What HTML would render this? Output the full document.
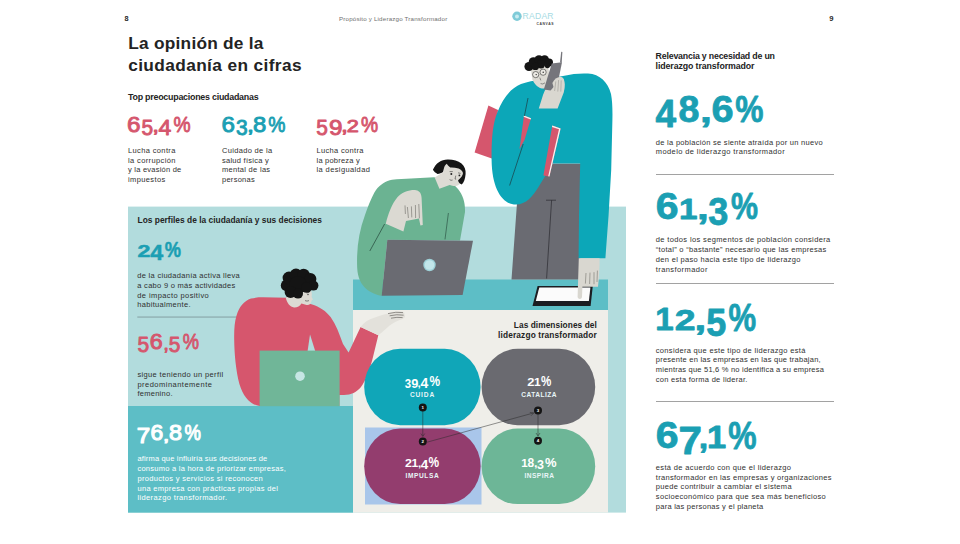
<!DOCTYPE html>
<html lang="es">
<head>
<meta charset="utf-8">
<title>La opinión de la ciudadanía en cifras</title>
<style>
html,body{margin:0;padding:0;background:#fff;}
body{width:960px;height:544px;position:relative;overflow:hidden;font-family:"Liberation Sans",sans-serif;color:#222;}
.t{position:absolute;white-space:nowrap;line-height:1;margin:0;}
.hr{position:absolute;left:656px;width:178px;height:1px;background:#a2a2a2;}
#art{position:absolute;left:0;top:0;}
</style>
</head>
<body>
<svg id="art" width="960" height="544" viewBox="0 0 960 544">
  <!-- panels -->
  <rect x="128" y="206.6" width="498" height="306" fill="#b2dcdd"/>
  <rect x="128" y="406" width="225" height="106.6" fill="#5dbec6"/>
  <rect x="353" y="279.5" width="255" height="31" fill="#5dbec6"/>
  <rect x="353" y="310" width="255" height="202.6" fill="#efeee9"/>

  <rect x="137.3" y="316.6" width="110" height="0.9" fill="#7e979b"/>
  <!-- ============ seated person (green) ============ -->
  <g id="green">
    <path d="M357.2 268 C356.4 250 358.6 232 365 215 C369 204 372 196 376 190 C380 184.6 386 181 392 179.8 C398 178.8 405 178.6 411 178.4 L434 177.2 C444 178 452 182 458 189 C463 195 465.4 203 465 212 L460 240.4 L387.3 239.8 L381.7 295.8 C372 294 358 288 357.2 268 Z" fill="#6bb392"/>
    <!-- seams -->
    <path d="M384.6 224 L369.8 251" stroke="#24463a" stroke-width="0.7" fill="none"/>
    <path d="M448.4 213 L445 239.4" stroke="#24463a" stroke-width="0.6" fill="none"/>
    <!-- collar / neck -->
    <path d="M434.7 177.4 L443.4 172 L451 184.6 L439.4 188.8 Z" fill="#dddbd4"/>
    <!-- face -->
    <path d="M443.8 165 C446 162 452 163 458 166 C463 169 464.8 174 462.6 180 C460.6 185 456.4 186.8 452.4 185.8 C447 184.4 444 180 443.2 175 Z" fill="#dddbd4"/>
    <!-- hair bob -->
    <path d="M432.9 169.8 C436 163 441 159.6 447.6 159.5 C453 159.4 458 160.6 461.5 163.6 C464.6 166.4 466 170 465.6 174 C465.2 179 463.8 182.6 461.8 184.6 C459.6 183.6 458.2 182 458.1 180.3 C460.8 178 463 175.4 463 173 C462.4 170.6 460.6 169 458.6 168.4 C455.6 167.6 453 167.4 450.3 167.5 C448.8 166.4 447.6 165 446.7 163.8 C445.2 165 444.3 166.6 443.9 168.4 L443 172 C441.4 173.2 439.6 173.8 437.5 173.9 C435.6 173 434 171.6 432.9 169.8 Z" fill="#151515"/>
    <!-- features -->
    <ellipse cx="451.3" cy="174" rx="1" ry="0.9" fill="#222"/><ellipse cx="459.4" cy="175.4" rx="0.9" ry="0.9" fill="#222"/>
    <path d="M449.6 171.6 L452.8 171.6 M458 172.8 L460.6 173.4 M455.8 175.6 L455 179 L456.2 179.2 M449.6 179.6 Q451 180.8 452.6 180" stroke="#222" stroke-width="0.5" fill="none"/>
    <!-- forearm / hand -->
    <path d="M397.6 197 C402 192.4 410 189.6 416 190.2 C420 190.8 421.4 194 421.6 198 L422.8 225 L420.4 225.6 L419 218.6 L406 221 L403.4 231.6 L385.8 223.8 C388 214 392 203.6 397.6 197 Z" fill="#dbd9d2"/>
    <path d="M405 205.4 L405.4 214 M407.4 207 L408.4 218 M411.4 206.4 L411.8 217.4 M415.4 205 L415.6 218 M418.8 204 L419.4 218.4" stroke="#6d6b66" stroke-width="0.6" fill="none"/>
    <!-- laptop -->
    <path d="M387.3 239.8 L473 240.7 L462.6 295 L381.7 295.8 Z" fill="#6a6b72"/>
    <circle cx="429.5" cy="265" r="6.2" fill="#9fd2d9"/>
    <circle cx="429.5" cy="265" r="4.8" fill="#c2e6ea"/>
  </g>

  <!-- ============ seated person (red) ============ -->
  <g id="redp">
    <!-- body + arm -->
    <path d="M234.2 340 C234 330 234.6 322 236.4 316 C239 307 244 301 251 298.6 C255 297.5 259 297.3 263 297.3 L287 297.8 L311.4 304.2 C320 307 326 311 330.6 317 C336 324.6 339.4 334 343 344 L348.6 352.6 L360.6 327 L378.3 335.3 L373 357 C370 369 366 380 361 387 C357 392 351 395 344 395 L339.4 395 L339.4 406 L259.6 406 C250 404.6 243.4 397 239.4 384 C235.8 370 234.4 354 234.2 340 Z" fill="#d6566d"/>
    <!-- gap between body and arm -->
    <path d="M310 334.6 L315.2 351 L307.6 351 Z" fill="#b2dcdd"/>
    <!-- neck + face -->
    <path d="M285.8 298 L296 290 L309 288.6 C311.6 290 312.4 294 311.6 297 L313 299.4 L311.6 300.6 C311.4 303.6 309.4 305.4 306.6 305 L301.4 303.4 C300 306 297 307.6 294 307.4 C290 307 287 303 285.8 298 Z" fill="#dcdad3"/>
    <path d="M306.6 293 L309.4 292.4 M305 300.6 Q307 301.6 309 300.6" stroke="#222" stroke-width="0.5" fill="none"/>
    <circle cx="308" cy="294.6" r="0.7" fill="#222"/>
    <!-- hair -->
    <g fill="#141414">
      <circle cx="286.6" cy="285.4" r="5.8"/><circle cx="289" cy="278.0" r="6.4"/><circle cx="296" cy="275.0" r="6.4"/><circle cx="303.6" cy="275.0" r="6.2"/>
      <circle cx="310.4" cy="279.0" r="6"/><circle cx="313.4" cy="285.6" r="5"/><circle cx="298" cy="285.0" r="9"/><circle cx="290.6" cy="292.0" r="6"/><circle cx="298" cy="293.6" r="5"/><circle cx="306.6" cy="287.4" r="5.4"/>
    </g>
    <!-- hand -->
    <path d="M360.6 327 C364 322 369 319 375 317.4 C382 314.8 392 312 400 311.4 C403.6 311.2 405.2 312.8 404.4 314.6 C405.8 316.2 404.8 318.6 402 319.2 C397 320.8 393 323 389.6 325.6 C386 329 382 332.6 378.3 335.3 Z" fill="#e3e1db"/>
    <path d="M388 313.6 Q396 311.4 403 312.6 M389.6 315.8 Q397 314 403.6 315.2 M391 318.2 Q397 316.8 402.6 317.6" stroke="#55534f" stroke-width="0.6" fill="none"/>
    <!-- laptop -->
    <rect x="259.6" y="350.6" width="80" height="55.6" fill="#70b698"/>
    <circle cx="300" cy="376.2" r="4.8" fill="#c6e6e4"/>
  </g>

  <!-- ============ standing person (teal coat) ============ -->
  <g id="stand">
    <!-- red folder behind -->
    <path d="M488.4 105.5 L498 110 L494 159.2 L474.6 152.4 Z" fill="#d5566d"/>
    <!-- pants -->
    <path d="M552.7 163.5 L581 163.5 L580 279.4 L511.5 279.4 L517 203 L538 186 Z" fill="#6a6b72"/>
    <path d="M546 200.2 H556 M551.6 200.2 L546.6 278.5" stroke="#2b2b30" stroke-width="0.7" fill="none"/>
    <!-- coat -->
    <path d="M491.6 160 C491.4 140 492.5 124 497.5 112 C503 98 511 88 521 84 C528 81.5 534 80.5 540 80 L563 76 C572 74 580 73.2 588 73.6 C600 74.4 607.8 82 611 94 C612.4 101 612.6 110 612.4 120 L611.2 170 L608.6 215 L605.4 258.2 L578.6 258.2 L579 215 L580.2 163.5 L552.7 163.5 L538.5 187 C533 196 526 204.6 516 204.6 C503 204.6 492 190 491.6 160 Z" fill="#0ca7b8"/>
    <!-- red lining stripes -->
    <path d="M524 115.5 L531 118.3 L524.5 140 L519.5 149 Z" fill="#d5566d"/>
    <path d="M524 115.5 L531 118.3 L530.6 119.6 L523.6 116.8 Z" fill="#f4f4f1"/>
    <path d="M552.3 125.6 L560.6 128.4 L549.4 176.5 L543.4 175.5 Z" fill="#d5566d"/>
    <path d="M552.3 125.6 L560.6 128.4 L549.4 176.5 L548.2 176.3 L559 129.3 L552 127 Z" fill="#f4f4f1"/>
    <!-- seam -->
    <path d="M523.2 144 L509.6 185.5 M528 98 L524.4 116" stroke="#1d3c44" stroke-width="0.7" fill="none"/>
    <!-- face -->
    <path d="M531 70 C533 66 540 64.5 548 65.5 L550 79 C549.6 84.6 547.4 88.6 543.6 88.6 C538.6 88.4 534.4 84.4 532.4 79.4 Z" fill="#dcdad3"/>
    <!-- hair -->
    <g fill="#141414">
      <circle cx="529" cy="66.5" r="4.6"/><circle cx="533.5" cy="62" r="4.8"/><circle cx="539" cy="59.8" r="4.6"/>
      <circle cx="544.6" cy="59.6" r="4.4"/><circle cx="549" cy="62.4" r="4"/><circle cx="541" cy="64.2" r="4.2"/><circle cx="535.4" cy="66.4" r="3.6"/><circle cx="547.4" cy="65.6" r="2.6"/>
    </g>
    <!-- glasses and features -->
    <g stroke="#222" stroke-width="0.55" fill="#eceae4">
      <circle cx="535.7" cy="74.6" r="3.1"/><circle cx="543.1" cy="72.2" r="3.1"/>
    </g>
    <circle cx="536.2" cy="74.6" r="0.7" fill="#222"/><circle cx="543.2" cy="72.2" r="0.7" fill="#222"/>
    <path d="M539.8 77.6 L540.8 80.4 M540.6 83.6 Q542.8 84.8 545 82.8" stroke="#222" stroke-width="0.45" fill="none"/>
    <!-- hand holding the phone -->
    <path d="M551 81 C555.6 74.8 562.2 75.4 564 80 C565.4 86 564.5 92 562 97 L557.6 108.6 L538.8 108.6 L543 95 C545 89 547.6 85.4 551 82 Z" fill="#d9d7d0"/>
    <!-- phone -->
    <path d="M560 62.4 L561.2 51.8 L562.4 52 L561.7 62.4 Z" fill="#76767c"/>
    <path d="M551.8 63.6 L562 62.2 L558 82 L550.6 90.6 L543.8 89.4 Z" fill="#75757b"/>
    <!-- fingers over phone -->
    <path d="M552.4 83 C554.8 77.4 559.8 75.6 562.8 77.8 C565.2 80.6 564.8 88 563 93 L556 96 Z" fill="#d9d7d0"/>
    <path d="M555.8 81.4 L554.6 91 M558.6 80 L557.8 91.6 M561.2 80.4 L560.8 91.6" stroke="#8f8d88" stroke-width="0.5" fill="none"/>
    <!-- right hand & tablet -->
    <path d="M537.6 286 L592.8 286 L590.6 306 L532.5 306 Z" fill="#1b1d22"/>
    <path d="M539.3 287.6 L590.4 287.6 L588.9 301 L535.8 301 Z" fill="#fbfbfb"/>
    <path d="M578.8 258.2 L599.6 258.2 C599.6 268 599 278 598 286.8 L582.4 286.8 L582 297 C581.6 299.6 578 299.6 577.6 297 Z" fill="#d9d7d0"/>
    <path d="M586 273 L585.4 283.6 M590 272.6 L589.6 284 M594 272.2 L594 284.2 M597.4 270.6 L597 282" stroke="#77756f" stroke-width="0.6" fill="none"/>
  </g>

  <!-- logo -->
  <circle cx="517" cy="16.2" r="4.7" fill="#7fcbd8"/>
  <circle cx="517" cy="16.6" r="2" fill="#c9ecf1"/>

  <!-- dimension blobs -->
  <rect x="365" y="427.5" width="116.5" height="77" fill="#a9c6ea"/>
  <rect x="364.2" y="348.8" width="116.4" height="76.4" rx="36" ry="38.2" fill="#10a6b8"/>
  <rect x="481.6" y="348.8" width="113.6" height="76.4" rx="36" ry="38.2" fill="#6a6a70"/>
  <rect x="364.2" y="428.6" width="116.4" height="75.4" rx="36" ry="37.7" fill="#933d6e"/>
  <rect x="481.6" y="428.6" width="113.6" height="75.4" rx="36" ry="37.7" fill="#6db697"/>
  <g stroke="#2a2a2a" stroke-width="0.5" fill="none">
    <path d="M422.8 411 V436 M420.8 433.5 L422.8 436.5 L424.8 433.5"/>
    <path d="M427 442.2 L533.4 413 M529.8 412.4 L533.8 412.9 L531 415.8"/>
    <path d="M538 414 V435.5 M536 433 L538 436 L540 433"/>
  </g>
  <g fill="#141414">
    <circle cx="422.8" cy="407.6" r="4"/>
    <circle cx="422.8" cy="441.6" r="4"/>
    <circle cx="538" cy="410.5" r="4"/>
    <circle cx="538" cy="440.8" r="4"/>
  </g>
  <g font-family="Liberation Sans, sans-serif" font-weight="bold" font-size="4.4" fill="#fff" text-anchor="middle">
    <text x="422.8" y="409.2">1</text>
    <text x="422.8" y="443.2">2</text>
    <text x="538" y="412.1">3</text>
    <text x="538" y="442.4">4</text>
  </g>
</svg>

<svg id="nums" width="960" height="544" viewBox="0 0 960 544" style="position:absolute;left:0;top:0">
<text id="pg8" font-family="Liberation Sans, sans-serif" font-weight="bold" fill="#2a2a2a"><tspan x="124.57" y="21.13" font-size="6.92" textLength="4.06" lengthAdjust="spacingAndGlyphs">8</tspan></text>
<text id="pg9" font-family="Liberation Sans, sans-serif" font-weight="bold" fill="#2a2a2a"><tspan x="829.24" y="21.23" font-size="7.06" textLength="4.25" lengthAdjust="spacingAndGlyphs">9</tspan></text>
<text id="n1" font-family="Liberation Sans, sans-serif" font-weight="normal" fill="#d5566d" stroke="#d5566d" stroke-width="0.9" stroke-linejoin="round"><tspan x="127.02" y="131.54" font-size="21.75" textLength="13.50" lengthAdjust="spacingAndGlyphs">6</tspan><tspan x="141.61" y="134.94" font-size="21.50" textLength="11.61" lengthAdjust="spacingAndGlyphs">5</tspan><tspan x="152.35" y="132.41" font-size="18.31" textLength="6.79" lengthAdjust="spacingAndGlyphs">,</tspan><tspan x="158.62" y="135.15" font-size="21.80" textLength="12.80" lengthAdjust="spacingAndGlyphs">4</tspan><tspan x="173.47" y="131.82" font-size="22.30" textLength="17.07" lengthAdjust="spacingAndGlyphs">%</tspan></text>
<text id="n2" font-family="Liberation Sans, sans-serif" font-weight="normal" fill="#1b9fb3" stroke="#1b9fb3" stroke-width="0.9" stroke-linejoin="round"><tspan x="221.47" y="131.54" font-size="21.75" textLength="13.44" lengthAdjust="spacingAndGlyphs">6</tspan><tspan x="236.05" y="135.14" font-size="21.47" textLength="11.67" lengthAdjust="spacingAndGlyphs">3</tspan><tspan x="247.11" y="132.41" font-size="18.31" textLength="6.94" lengthAdjust="spacingAndGlyphs">,</tspan><tspan x="252.91" y="131.54" font-size="21.75" textLength="13.27" lengthAdjust="spacingAndGlyphs">8</tspan><tspan x="268.26" y="131.82" font-size="22.30" textLength="17.18" lengthAdjust="spacingAndGlyphs">%</tspan></text>
<text id="n3" font-family="Liberation Sans, sans-serif" font-weight="normal" fill="#d5566d" stroke="#d5566d" stroke-width="0.9" stroke-linejoin="round"><tspan x="316.31" y="135.14" font-size="21.78" textLength="11.61" lengthAdjust="spacingAndGlyphs">5</tspan><tspan x="328.91" y="135.14" font-size="21.47" textLength="13.48" lengthAdjust="spacingAndGlyphs">9</tspan><tspan x="341.11" y="132.41" font-size="18.31" textLength="6.94" lengthAdjust="spacingAndGlyphs">,</tspan><tspan x="346.86" y="131.75" font-size="16.61" textLength="12.09" lengthAdjust="spacingAndGlyphs">2</tspan><tspan x="361.01" y="131.82" font-size="22.30" textLength="17.12" lengthAdjust="spacingAndGlyphs">%</tspan></text>
<text id="n4" font-family="Liberation Sans, sans-serif" font-weight="bold" fill="#1b9fb3" stroke="#1b9fb3" stroke-width="0.5" stroke-linejoin="round"><tspan x="137.54" y="256.85" font-size="17.33" textLength="12.94" lengthAdjust="spacingAndGlyphs">2</tspan><tspan x="150.20" y="260.05" font-size="22.24" textLength="12.98" lengthAdjust="spacingAndGlyphs">4</tspan><tspan x="164.70" y="257.07" font-size="22.88" textLength="16.24" lengthAdjust="spacingAndGlyphs">%</tspan></text>
<text id="n5" font-family="Liberation Sans, sans-serif" font-weight="normal" fill="#d5566d" stroke="#d5566d" stroke-width="0.9" stroke-linejoin="round"><tspan x="137.51" y="352.34" font-size="21.93" textLength="11.67" lengthAdjust="spacingAndGlyphs">5</tspan><tspan x="149.66" y="349.14" font-size="21.33" textLength="13.02" lengthAdjust="spacingAndGlyphs">6</tspan><tspan x="163.22" y="350.01" font-size="18.31" textLength="5.66" lengthAdjust="spacingAndGlyphs">,</tspan><tspan x="168.81" y="352.34" font-size="21.93" textLength="11.61" lengthAdjust="spacingAndGlyphs">5</tspan><tspan x="182.70" y="349.42" font-size="21.87" textLength="16.25" lengthAdjust="spacingAndGlyphs">%</tspan></text>
<text id="n6" font-family="Liberation Sans, sans-serif" font-weight="normal" fill="#fff" stroke="#fff" stroke-width="1.1" stroke-linejoin="round"><tspan x="136.81" y="442.95" font-size="22.67" textLength="13.46" lengthAdjust="spacingAndGlyphs">7</tspan><tspan x="150.64" y="439.93" font-size="22.17" textLength="12.72" lengthAdjust="spacingAndGlyphs">6</tspan><tspan x="163.14" y="440.87" font-size="17.03" textLength="6.23" lengthAdjust="spacingAndGlyphs">,</tspan><tspan x="169.13" y="439.93" font-size="22.17" textLength="13.04" lengthAdjust="spacingAndGlyphs">8</tspan><tspan x="184.49" y="440.22" font-size="22.72" textLength="16.42" lengthAdjust="spacingAndGlyphs">%</tspan></text>
<text id="b1" font-family="Liberation Sans, sans-serif" font-weight="bold" fill="#1b9fb3" stroke="#1b9fb3" stroke-width="0.8" stroke-linejoin="round"><tspan x="655.44" y="127.10" font-size="37.94" textLength="20.61" lengthAdjust="spacingAndGlyphs">4</tspan><tspan x="678.61" y="121.94" font-size="36.58" textLength="20.90" lengthAdjust="spacingAndGlyphs">8</tspan><tspan x="700.01" y="122.16" font-size="31.94" textLength="11.85" lengthAdjust="spacingAndGlyphs">,</tspan><tspan x="711.45" y="121.94" font-size="36.58" textLength="22.09" lengthAdjust="spacingAndGlyphs">6</tspan><tspan x="735.21" y="122.30" font-size="37.80" textLength="28.23" lengthAdjust="spacingAndGlyphs">%</tspan></text>
<text id="b2" font-family="Liberation Sans, sans-serif" font-weight="bold" fill="#1b9fb3" stroke="#1b9fb3" stroke-width="0.8" stroke-linejoin="round"><tspan x="655.80" y="218.74" font-size="36.86" textLength="22.78" lengthAdjust="spacingAndGlyphs">6</tspan><tspan x="678.90" y="218.90" font-size="30.38" textLength="18.53" lengthAdjust="spacingAndGlyphs">1</tspan><tspan x="696.93" y="219.11" font-size="32.27" textLength="11.75" lengthAdjust="spacingAndGlyphs">,</tspan><tspan x="708.32" y="224.92" font-size="38.55" textLength="20.08" lengthAdjust="spacingAndGlyphs">3</tspan><tspan x="730.89" y="219.30" font-size="37.80" textLength="27.01" lengthAdjust="spacingAndGlyphs">%</tspan></text>
<text id="b3" font-family="Liberation Sans, sans-serif" font-weight="bold" fill="#1b9fb3" stroke="#1b9fb3" stroke-width="0.8" stroke-linejoin="round"><tspan x="655.22" y="330.10" font-size="30.45" textLength="18.41" lengthAdjust="spacingAndGlyphs">1</tspan><tspan x="674.70" y="330.10" font-size="30.00" textLength="20.79" lengthAdjust="spacingAndGlyphs">2</tspan><tspan x="694.43" y="329.91" font-size="30.29" textLength="11.75" lengthAdjust="spacingAndGlyphs">,</tspan><tspan x="706.19" y="336.12" font-size="39.20" textLength="20.01" lengthAdjust="spacingAndGlyphs">5</tspan><tspan x="728.38" y="330.55" font-size="37.95" textLength="27.64" lengthAdjust="spacingAndGlyphs">%</tspan></text>
<text id="b4" font-family="Liberation Sans, sans-serif" font-weight="bold" fill="#1b9fb3" stroke="#1b9fb3" stroke-width="0.8" stroke-linejoin="round"><tspan x="655.80" y="448.14" font-size="36.86" textLength="22.78" lengthAdjust="spacingAndGlyphs">6</tspan><tspan x="678.59" y="453.50" font-size="37.94" textLength="23.47" lengthAdjust="spacingAndGlyphs">7</tspan><tspan x="698.70" y="447.84" font-size="28.15" textLength="9.42" lengthAdjust="spacingAndGlyphs">,</tspan><tspan x="706.98" y="448.40" font-size="30.52" textLength="19.18" lengthAdjust="spacingAndGlyphs">1</tspan><tspan x="728.36" y="448.80" font-size="38.80" textLength="28.33" lengthAdjust="spacingAndGlyphs">%</tspan></text>
<text id="k1" font-family="Liberation Sans, sans-serif" font-weight="bold" fill="#fff"><tspan x="404.74" y="387.65" font-size="13.67" textLength="6.38" lengthAdjust="spacingAndGlyphs">3</tspan><tspan x="411.16" y="387.67" font-size="13.70" textLength="7.12" lengthAdjust="spacingAndGlyphs">9</tspan><tspan x="417.59" y="386.72" font-size="9.55" textLength="3.30" lengthAdjust="spacingAndGlyphs">,</tspan><tspan x="420.49" y="387.80" font-size="14.10" textLength="7.79" lengthAdjust="spacingAndGlyphs">4</tspan><tspan x="429.40" y="385.89" font-size="13.79" textLength="10.61" lengthAdjust="spacingAndGlyphs">%</tspan></text>
<text id="k2" font-family="Liberation Sans, sans-serif" font-weight="bold" fill="#fff"><tspan x="527.25" y="385.90" font-size="10.74" textLength="7.16" lengthAdjust="spacingAndGlyphs">2</tspan><tspan x="534.14" y="385.90" font-size="10.90" textLength="6.69" lengthAdjust="spacingAndGlyphs">1</tspan><tspan x="541.11" y="385.89" font-size="13.79" textLength="10.29" lengthAdjust="spacingAndGlyphs">%</tspan></text>
<text id="k3" font-family="Liberation Sans, sans-serif" font-weight="bold" fill="#fff"><tspan x="404.97" y="466.90" font-size="10.31" textLength="6.93" lengthAdjust="spacingAndGlyphs">2</tspan><tspan x="411.54" y="466.90" font-size="10.47" textLength="6.69" lengthAdjust="spacingAndGlyphs">1</tspan><tspan x="418.14" y="466.77" font-size="9.88" textLength="3.11" lengthAdjust="spacingAndGlyphs">,</tspan><tspan x="420.80" y="468.75" font-size="13.15" textLength="7.53" lengthAdjust="spacingAndGlyphs">4</tspan><tspan x="428.60" y="466.89" font-size="13.79" textLength="10.61" lengthAdjust="spacingAndGlyphs">%</tspan></text>
<text id="k4" font-family="Liberation Sans, sans-serif" font-weight="bold" fill="#fff"><tspan x="521.27" y="466.90" font-size="10.03" textLength="6.45" lengthAdjust="spacingAndGlyphs">1</tspan><tspan x="527.62" y="466.77" font-size="12.85" textLength="6.65" lengthAdjust="spacingAndGlyphs">8</tspan><tspan x="534.05" y="466.82" font-size="10.21" textLength="3.50" lengthAdjust="spacingAndGlyphs">,</tspan><tspan x="537.11" y="468.61" font-size="12.33" textLength="6.94" lengthAdjust="spacingAndGlyphs">3</tspan><tspan x="544.88" y="466.89" font-size="13.50" textLength="11.57" lengthAdjust="spacingAndGlyphs">%</tspan></text>
</svg>
<div class="hr" style="top:174px"></div>
<div class="hr" style="top:283px"></div>
<div class="hr" style="top:401px"></div>
<div class="t" id="hdr" style="left:339.00px;top:16.00px;font-size:6.2px;color:#707070;letter-spacing:0.188px;">Propósito y Liderazgo Transformador</div>
<div class="t" id="title1" style="left:128.30px;top:35.00px;font-size:17.3px;color:#232323;font-weight:bold;letter-spacing:0.238px;">La opinión de la</div>
<div class="t" id="title2" style="left:128.20px;top:57.00px;font-size:17.3px;color:#232323;font-weight:bold;letter-spacing:0.377px;">ciudadanía en cifras</div>
<div class="t" id="sub1" style="left:128.00px;top:93.00px;font-size:8.9px;color:#232323;font-weight:bold;letter-spacing:-0.243px;">Top preocupaciones ciudadanas</div>
<div class="t" id="p1_0" style="left:128.00px;top:147.00px;font-size:7.5px;color:#303030;letter-spacing:0.365px;">Lucha contra</div>
<div class="t" id="p1_1" style="left:128.00px;top:157.00px;font-size:7.5px;color:#303030;letter-spacing:0.372px;">la corrupción</div>
<div class="t" id="p1_2" style="left:128.00px;top:166.00px;font-size:7.5px;color:#303030;letter-spacing:0.227px;">y la evasión de</div>
<div class="t" id="p1_3" style="left:128.00px;top:176.00px;font-size:7.5px;color:#303030;letter-spacing:0.375px;">impuestos</div>
<div class="t" id="p2_0" style="left:222.00px;top:147.00px;font-size:7.5px;color:#303030;letter-spacing:0.324px;">Cuidado de la</div>
<div class="t" id="p2_1" style="left:222.00px;top:157.00px;font-size:7.5px;color:#303030;letter-spacing:0.258px;">salud física y</div>
<div class="t" id="p2_2" style="left:222.00px;top:166.00px;font-size:7.5px;color:#303030;letter-spacing:0.290px;">mental de las</div>
<div class="t" id="p2_3" style="left:222.00px;top:176.00px;font-size:7.5px;color:#303030;letter-spacing:0.262px;">personas</div>
<div class="t" id="p3_0" style="left:316.50px;top:147.00px;font-size:7.5px;color:#303030;letter-spacing:0.319px;">Lucha contra</div>
<div class="t" id="p3_1" style="left:316.50px;top:157.00px;font-size:7.5px;color:#303030;letter-spacing:0.211px;">la pobreza y</div>
<div class="t" id="p3_2" style="left:316.50px;top:166.00px;font-size:7.5px;color:#303030;letter-spacing:0.387px;">la desigualdad</div>
<div class="t" id="sub2" style="left:137.50px;top:216.00px;font-size:8.4px;color:#232323;font-weight:bold;letter-spacing:0.013px;">Los perfiles de la ciudadanía y sus decisiones</div>
<div class="t" id="p4_0" style="left:137.30px;top:272.00px;font-size:7.5px;color:#303030;letter-spacing:0.290px;">de la ciudadanía activa lleva</div>
<div class="t" id="p4_1" style="left:137.30px;top:282.00px;font-size:7.5px;color:#303030;letter-spacing:0.284px;">a cabo 9 o más actividades</div>
<div class="t" id="p4_2" style="left:137.30px;top:292.00px;font-size:7.5px;color:#303030;letter-spacing:0.403px;">de impacto positivo</div>
<div class="t" id="p4_3" style="left:137.30px;top:301.00px;font-size:7.5px;color:#303030;letter-spacing:0.308px;">habitualmente.</div>
<div class="t" id="p5_0" style="left:137.40px;top:371.00px;font-size:7.5px;color:#303030;letter-spacing:0.354px;">sigue teniendo un perfil</div>
<div class="t" id="p5_1" style="left:137.40px;top:381.00px;font-size:7.5px;color:#303030;letter-spacing:0.487px;">predominantemente</div>
<div class="t" id="p5_2" style="left:137.40px;top:390.00px;font-size:7.5px;color:#303030;letter-spacing:0.272px;">femenino.</div>
<div class="t" id="p6_0" style="left:137.40px;top:455.00px;font-size:7.5px;color:#fff;letter-spacing:0.173px;">afirma que influiría sus decisiones de</div>
<div class="t" id="p6_1" style="left:137.40px;top:465.00px;font-size:7.5px;color:#fff;letter-spacing:0.256px;">consumo a la hora de priorizar empresas,</div>
<div class="t" id="p6_2" style="left:137.40px;top:475.00px;font-size:7.5px;color:#fff;letter-spacing:0.326px;">productos y servicios si reconocen</div>
<div class="t" id="p6_3" style="left:137.40px;top:485.00px;font-size:7.5px;color:#fff;letter-spacing:0.325px;">una empresa con prácticas propias del</div>
<div class="t" id="p6_4" style="left:137.40px;top:494.00px;font-size:7.5px;color:#fff;letter-spacing:0.379px;">liderazgo transformador.</div>
<div class="t" id="rt_0" style="left:655.60px;top:52.00px;font-size:8.8px;color:#232323;font-weight:bold;letter-spacing:-0.198px;">Relevancia y necesidad de un</div>
<div class="t" id="rt_1" style="left:655.60px;top:62.00px;font-size:8.8px;color:#232323;font-weight:bold;letter-spacing:-0.105px;">liderazgo transformador</div>
<div class="t" id="rp1_0" style="left:655.80px;top:139.00px;font-size:7.5px;color:#303030;letter-spacing:0.290px;">de la población se siente atraída por un nuevo</div>
<div class="t" id="rp1_1" style="left:655.80px;top:148.00px;font-size:7.5px;color:#303030;letter-spacing:0.393px;">modelo de liderazgo transformador</div>
<div class="t" id="rp2_0" style="left:655.80px;top:236.00px;font-size:7.5px;color:#303030;letter-spacing:0.364px;">de todos los segmentos de población considera</div>
<div class="t" id="rp2_1" style="left:655.80px;top:246.00px;font-size:7.5px;color:#303030;letter-spacing:0.288px;">“total” o “bastante” necesario que las empresas</div>
<div class="t" id="rp2_2" style="left:655.80px;top:256.00px;font-size:7.5px;color:#303030;letter-spacing:0.321px;">den el paso hacia este tipo de liderazgo</div>
<div class="t" id="rp2_3" style="left:655.80px;top:266.00px;font-size:7.5px;color:#303030;letter-spacing:0.409px;">transformador</div>
<div class="t" id="rp3_0" style="left:655.80px;top:347.00px;font-size:7.5px;color:#303030;letter-spacing:0.320px;">considera que este tipo de liderazgo está</div>
<div class="t" id="rp3_1" style="left:655.80px;top:356.00px;font-size:7.5px;color:#303030;letter-spacing:0.241px;">presente en las empresas en las que trabajan,</div>
<div class="t" id="rp3_2" style="left:655.80px;top:366.00px;font-size:7.5px;color:#303030;letter-spacing:0.215px;">mientras que 51,6 % no identifica a su empresa</div>
<div class="t" id="rp3_3" style="left:655.80px;top:376.00px;font-size:7.5px;color:#303030;letter-spacing:0.279px;">con esta forma de liderar.</div>
<div class="t" id="rp4_0" style="left:655.80px;top:464.00px;font-size:7.5px;color:#303030;letter-spacing:0.349px;">está de acuerdo con que el liderazgo</div>
<div class="t" id="rp4_1" style="left:655.80px;top:474.00px;font-size:7.5px;color:#303030;letter-spacing:0.299px;">transformador en las empresas y organizaciones</div>
<div class="t" id="rp4_2" style="left:655.80px;top:483.00px;font-size:7.5px;color:#303030;letter-spacing:0.309px;">puede contribuir a cambiar el sistema</div>
<div class="t" id="rp4_3" style="left:655.80px;top:493.00px;font-size:7.5px;color:#303030;letter-spacing:0.335px;">socioeconómico para que sea más beneficioso</div>
<div class="t" id="rp4_4" style="left:655.80px;top:503.00px;font-size:7.5px;color:#303030;letter-spacing:0.256px;">para las personas y el planeta</div>
<div class="t" id="d1" style="left:513.80px;top:321.00px;font-size:8.3px;color:#232323;font-weight:bold;letter-spacing:0.076px;">Las dimensiones del</div>
<div class="t" id="d2" style="left:498.10px;top:331.00px;font-size:8.3px;color:#232323;font-weight:bold;letter-spacing:0.148px;">liderazgo transformador</div>
<div class="t" id="k1l" style="left:409.90px;top:392.00px;font-size:6.6px;color:#e8f5f7;font-weight:bold;letter-spacing:0.853px;">CUIDA</div>
<div class="t" id="k2l" style="left:521.30px;top:392.00px;font-size:6.6px;color:#e8f5f7;font-weight:bold;letter-spacing:0.470px;">CATALIZA</div>
<div class="t" id="k3l" style="left:405.60px;top:473.00px;font-size:6.6px;color:#e8f5f7;font-weight:bold;letter-spacing:0.567px;">IMPULSA</div>
<div class="t" id="k4l" style="left:524.40px;top:473.00px;font-size:6.6px;color:#e8f5f7;font-weight:bold;letter-spacing:0.490px;">INSPIRA</div>
<div class="t" id="lg1" style="left:522.60px;top:12.00px;font-size:8.6px;color:#a6dbe3;letter-spacing:0.225px;">RADAR</div>
<div class="t" id="lg2" style="left:536.60px;top:23.00px;font-size:3.4px;color:#444;font-weight:bold;letter-spacing:0.558px;">CANVAS</div>
</body>
</html>
